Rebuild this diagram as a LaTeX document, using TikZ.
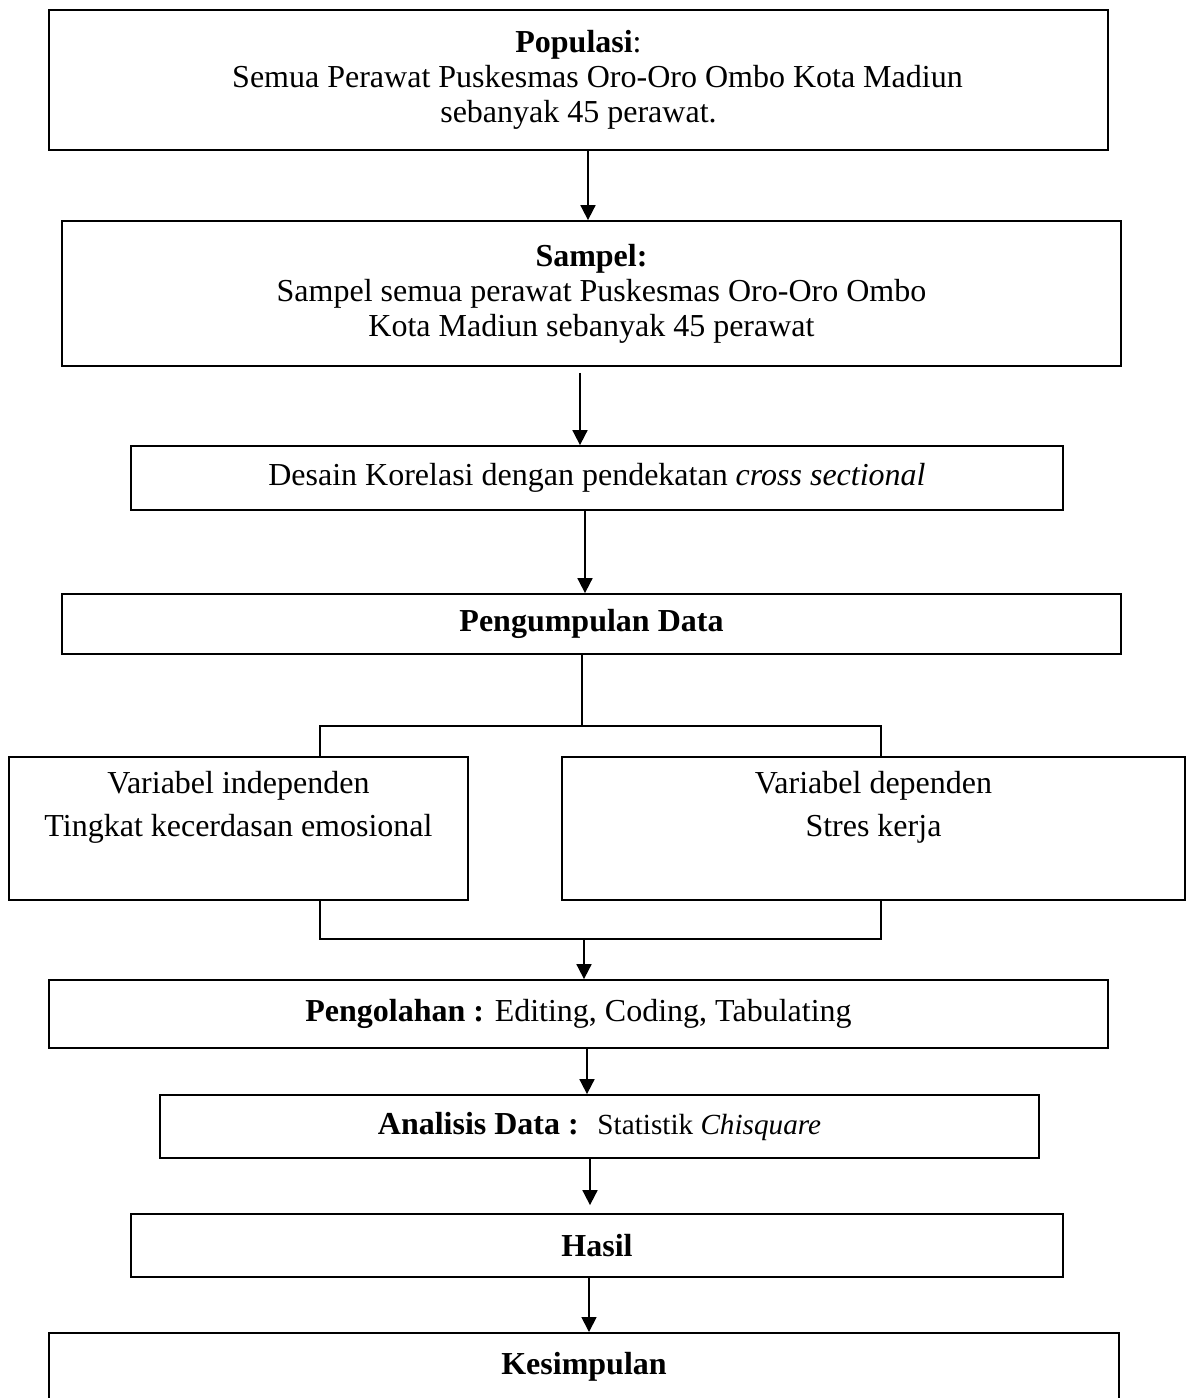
\documentclass[tikz,border=0pt]{standalone}
\usepackage{fontspec}
\setmainfont{Liberation Serif}
\usetikzlibrary{arrows.meta}
\begin{document}
\begin{tikzpicture}[x=0.5pt,y=-0.5pt,
  box/.style={draw,line width=0.9pt,inner sep=0pt,align=center,
    font=\fontsize{16}{17.5}\selectfont},
  link/.style={line width=0.9pt},
  arr/.style={line width=0.9pt,-{Triangle[length=7.5pt,width=7.5pt]}}]
\useasboundingbox (0,0) rectangle (1186,1398);
\fill[white] (0,0) rectangle (1186,1398);

\node[box,minimum width=529.5pt,minimum height=70pt] (pop) at (578.5,80)
  {\textbf{Populasi}:\\\hspace*{19pt}Semua Perawat Puskesmas Oro-Oro Ombo Kota Madiun\\sebanyak 45 perawat.};
\node[box,minimum width=529.5pt,minimum height=72.5pt] (sam) at (591.5,293.5)
  {\textbf{Sampel:}\\\hspace*{10pt}Sampel semua perawat Puskesmas Oro-Oro Ombo\\Kota Madiun sebanyak 45 perawat};
\node[box,minimum width=466pt,minimum height=32pt] (des) at (597,478)
  {Desain Korelasi dengan pendekatan \textit{cross sectional}};
\node[box,minimum width=529.5pt,minimum height=30pt] (pen) at (591.5,624)
  {\textbf{Pengumpulan Data}};
\node[box,minimum width=229.5pt,minimum height=71.5pt,
  font=\fontsize{16}{21.5}\selectfont] (ind) at (238.5,828.5)
  {Variabel independen\\Tingkat kecerdasan emosional\\[3pt]\mbox{}};
\node[box,minimum width=311.5pt,minimum height=71.5pt,
  font=\fontsize{16}{21.5}\selectfont] (dep) at (873.5,828.5)
  {Variabel dependen\\Stres kerja\\[3pt]\mbox{}};
\node[box,minimum width=529.5pt,minimum height=34pt] (olah) at (578.5,1014)
  {\textbf{Pengolahan :} Editing, Coding, Tabulating};
\node[box,minimum width=439.5pt,minimum height=31.5pt] (ana) at (599.5,1126.5)
  {\textbf{Analisis Data :} \ {\fontsize{14.6}{16}\selectfont Statistik \textit{Chisquare}}};
\node[box,minimum width=466pt,minimum height=31.5pt] (has) at (597,1245.5)
  {\textbf{Hasil}};
\node[box,minimum width=535pt,anchor=north,inner ysep=10pt,
  text height=11pt,text depth=80pt] (kes) at (584,1332)
  {\textbf{Kesimpulan}};

% connector x positions
\coordinate (x1) at (588,0);
\coordinate (x2) at (580,0);
\coordinate (x3) at (585,0);
\coordinate (x5) at (587,0);
\coordinate (x6) at (590,0);
\coordinate (x7) at (589,0);

\draw[arr] (pop.south -| x1) -- (sam.north -| x1);
\draw[arr,shorten <=3pt] (sam.south -| x2) -- (des.north -| x2);
\draw[arr] (des.south -| x3) -- (pen.north -| x3);

% split
\coordinate (j1) at (582,726);
\coordinate (lb) at (320,726);
\coordinate (rb) at (881,726);
\draw[link] (pen.south -| j1) -- (j1);
\draw[link] (lb |- ind.north) -- (lb) -- (rb) -- (rb |- dep.north);

% merge
\coordinate (lb2) at (320,939);
\coordinate (rb2) at (881,939);
\coordinate (j2) at (584,939);
\draw[link] (ind.south -| lb2) -- (lb2) -- (rb2) -- (dep.south -| rb2);
\draw[arr] (j2) -- (olah.north -| j2);

\draw[arr] (olah.south -| x5) -- (ana.north -| x5);
\draw[arr,shorten >=4pt] (ana.south -| x6) -- (has.north -| x6);
\draw[arr] (has.south -| x7) -- (kes.north -| x7);
\end{tikzpicture}
\end{document}
